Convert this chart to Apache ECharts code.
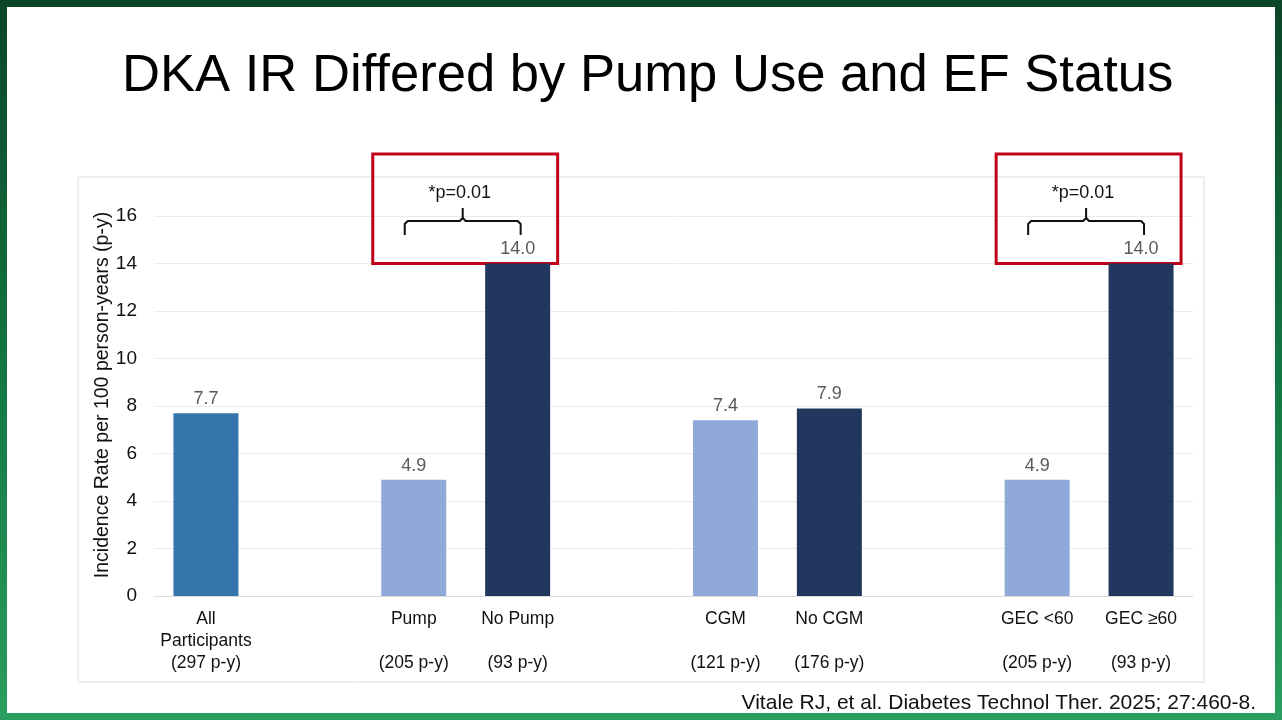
<!DOCTYPE html>
<html>
<head>
<meta charset="UTF-8">
<title>DKA IR</title>
<script src="https://cdn.jsdelivr.net/npm/echarts@6/dist/echarts.min.js"></script>
<style>
  html, body { margin: 0; padding: 0; }
  body { width: 1282px; height: 720px; overflow: hidden; position: relative;
         background: linear-gradient(to bottom, #0b4527 0%, #147a44 55%, #2a9e60 100%); }
  #slide { position: absolute; left: 7px; top: 7px; width: 1268px; height: 706px; background: #fff; }
  #main { position: absolute; left: 0; top: 0; width: 1282px; height: 720px; }
</style>
</head>
<body>
<div id="slide"></div>
<div id="main"></div>
<script type="text/javascript">
// data
var categories = ['All\nParticipants\n(297 p-y)', '', 'Pump\n\n(205 p-y)', 'No Pump\n\n(93 p-y)', '',
                  'CGM\n\n(121 p-y)', 'No CGM\n\n(176 p-y)', '', 'GEC <60\n\n(205 p-y)', 'GEC \u226560\n\n(93 p-y)'];
var rates = [7.7, null, 4.9, 14.0, null, 7.4, 7.9, null, 4.9, 14.0];
var barColors = ['#3674ac', null, '#8faad8', '#22375e', null, '#8faad8', '#22375e', null, '#8faad8', '#22375e'];
var yTicks = [0, 2, 4, 6, 8, 10, 12, 14, 16];
// pairs that carry a significance bracket: [left index, right index, text]
var comparisons = [[2, 3, '*p=0.01'], [8, 9, '*p=0.01']];

var font = '"Liberation Sans", Arial, sans-serif';
var myChart = echarts.init(document.getElementById('main'));

var option = {
    backgroundColor: 'transparent',
    animation: false,
    title: {
        text: 'DKA IR Differed by Pump Use and EF Status',
        left: 117,
        top: 45,
        textStyle: { fontFamily: font, fontSize: 52.6, fontWeight: 'normal', color: '#000' }
    },
    grid: { left: 154, right: 89, top: 216, bottom: 124 },
    xAxis: {
        type: 'category',
        data: categories,
        axisTick: { show: false },
        axisLine: { lineStyle: { color: '#dcdcdc', width: 1 } },
        axisLabel: { interval: 0, margin: 12, fontFamily: font, fontSize: 17.5, lineHeight: 22, color: '#111' }
    },
    yAxis: {
        type: 'value',
        min: yTicks[0],
        max: yTicks[yTicks.length - 1],
        interval: 2,
        name: 'Incidence Rate per 100 person-years (p-y)',
        nameLocation: 'middle',
        nameGap: 41,
        nameMoveOverlap: false,
        nameTextStyle: { fontFamily: font, fontSize: 19.5, color: '#111', padding: [0, 0, 0, 22] },
        axisLine: { show: false },
        axisTick: { show: false },
        axisLabel: { margin: 17, fontFamily: font, fontSize: 19, color: '#111' },
        splitLine: { lineStyle: { color: '#ebebeb', width: 1 } }
    },
    series: [{
        type: 'bar',
        barWidth: 65,
        data: rates.map(function (v, i) {
            return v === null ? null : { value: v, itemStyle: { color: barColors[i] } };
        }),
        label: {
            show: true,
            position: 'top',
            distance: 5,
            fontFamily: font,
            fontSize: 18,
            color: '#595959',
            formatter: function (p) { return p.value.toFixed(1); }
        }
    }]
};
myChart.setOption(option);

// frame around the plot, brackets and red highlight boxes placed from the axes
function px(i, v) { return myChart.convertToPixel({ gridIndex: 0 }, [i, v]); }
var graphics = [{
    type: 'rect', silent: true, z: -1,
    shape: { x: 78, y: 177, width: 1126, height: 505 },
    style: { fill: 'none', stroke: '#dedede', lineWidth: 1 }
}, {
    type: 'text', silent: true, x: 1256, y: 703,
    style: { text: 'Vitale RJ, et al. Diabetes Technol Ther. 2025; 27:460-8.', fontFamily: font, fontSize: 21,
             fill: '#111', align: 'right', verticalAlign: 'middle' }
}];
comparisons.forEach(function (c) {
    var a = px(c[0], yTicks[yTicks.length - 1]);
    var b = px(c[1], yTicks[yTicks.length - 1]);
    var top14 = px(c[1], 14)[1];
    var x1 = a[0] - 9, x2 = b[0] + 3, y = a[1] + 5, mid = (x1 + x2) / 2, r = 3;
    graphics.push({
        type: 'polyline', silent: true,
        shape: { points: [[x1, y + 14], [x1, y + r], [x1 + r, y], [mid - r, y], [mid, y - r], [mid, y - 13]] },
        style: { fill: 'none', stroke: '#111', lineWidth: 2, lineJoin: 'round' }
    });
    graphics.push({
        type: 'polyline', silent: true,
        shape: { points: [[mid, y - r], [mid + r, y], [x2 - r, y], [x2, y + r], [x2, y + 14]] },
        style: { fill: 'none', stroke: '#111', lineWidth: 2, lineJoin: 'round' }
    });
    graphics.push({
        type: 'text', silent: true, x: mid - 3, y: a[1] - 23,
        style: { text: c[2], fontFamily: font, fontSize: 18, fill: '#111', align: 'center', verticalAlign: 'middle' }
    });
    graphics.push({
        type: 'rect', silent: true,
        shape: { x: a[0] - 41, y: a[1] - 62, width: (b[0] + 40) - (a[0] - 41), height: top14 - (a[1] - 62) },
        style: { fill: 'none', stroke: '#c00018', lineWidth: 3 }
    });
});
myChart.setOption({ graphic: graphics });
</script>
</body>
</html>
